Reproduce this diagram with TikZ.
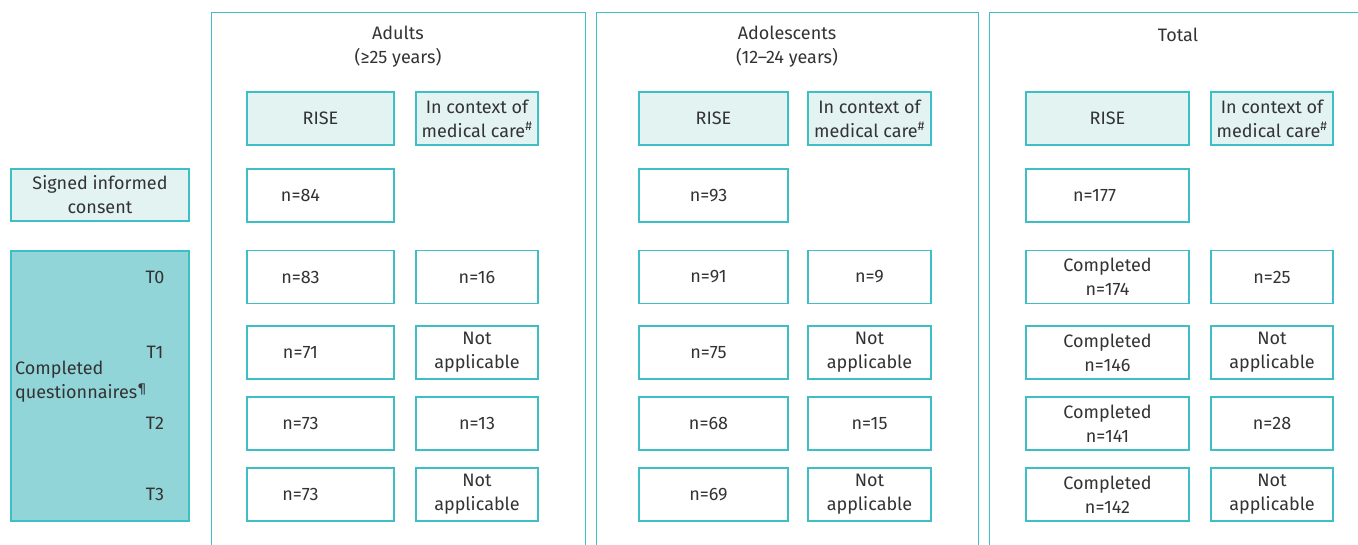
\documentclass[tikz,border=0pt]{standalone}
\usepackage{fontspec}
\setmainfont{Fira Sans}
\definecolor{bordc}{HTML}{3EBFC6}
\definecolor{lightc}{HTML}{E3F3F2}
\definecolor{darkc}{HTML}{92D5D9}
\definecolor{textc}{HTML}{333333}
\begin{document}
\begin{tikzpicture}[x=1pt,y=-1pt,
  font=\fontsize{18}{24}\selectfont, text=textc,
  box/.style={draw=bordc, line width=1.2pt, fill=white, inner sep=0pt, align=center, minimum height=53pt},
  hbox/.style={box, fill=lightc},
  panel/.style={draw=bordc, line width=1.2pt},
  ttl/.style={align=center, inner sep=0pt},
  wa/.style={minimum width=147pt}, wb/.style={minimum width=122pt},
  wc/.style={minimum width=149pt}, wd/.style={minimum width=123pt},
  we/.style={minimum width=163pt}
]
\useasboundingbox (0,0) rectangle (1358,544);
% panels
\node[panel, minimum width=374pt, minimum height=600pt, anchor=north west, inner sep=0pt] (pA) at (211,12) {};
\node[panel, minimum width=382pt, minimum height=600pt, anchor=north west, inner sep=0pt] (pB) at (596,12) {};
\node[panel, minimum width=378pt, minimum height=600pt, anchor=north west, inner sep=0pt] (pC) at (989,12) {};
% titles
\node[ttl] (tA) at (398,47) {Adults\\(≥25 years)};
\node[ttl] (tB) at (787,47) {Adolescents\\(12–24 years)};
\node[ttl] (tC) at (1178,35) {Total};
% left column
\node[hbox, minimum width=178pt, minimum height=52pt] (consent) at (100,195) {Signed informed\\consent};
\node[box, fill=darkc, minimum width=178pt, minimum height=270pt] (quest) at (100,386) {};
\node[anchor=west, align=left, inner sep=0pt] (qlab) at (15,382) {Completed\\questionnaires\textsuperscript{¶}};
\node (t0) at (155,277) {T0};
\node (t1) at (155,352.5) {T1};
\node (t2) at (155,423.5) {T2};
\node (t3) at (155,494.5) {T3};
% headers
\node[hbox, wa] (hA1) at (320.5,118.5) {RISE};
\node[hbox, wb] (hA2) at (477,118.5) {In context of\\medical care\textsuperscript{\#}};
\node[hbox, wc] (hB1) at (713.5,118.5) {RISE};
\node[hbox, wd] (hB2) at (869.5,118.5) {In context of\\medical care\textsuperscript{\#}};
\node[hbox, we] (hC1) at (1107.5,118.5) {RISE};
\node[hbox, wb] (hC2) at (1272,118.5) {In context of\\medical care\textsuperscript{\#}};
% consent row
\node[box, wa, label={[xshift=-20pt]center:n=84}] (cA) at (320.5,195.5) {};
\node[box, wc, label={[xshift=-5pt]center:n=93}] (cB) at (713.5,195.5) {};
\node[box, we, label={[xshift=-13pt]center:n=177}] (cC) at (1107.5,195.5) {};
% T0
\node[box, wa, label={[xshift=-20pt]center:n=83}] (a0) at (320.5,277) {};
\node[box, wb] (b0) at (477,277) {n=16};
\node[box, wc, label={[xshift=-5pt]center:n=91}] (c0) at (713.5,277) {};
\node[box, wd] (d0) at (869.5,277) {n=9};
\node[box, we] (e0) at (1107.5,277) {Completed\\n=174};
\node[box, wb] (f0) at (1272,277) {n=25};
% T1
\node[box, wa, label={[xshift=-20pt]center:n=71}] (a1) at (320.5,352.5) {};
\node[box, wb] (b1) at (477,352.5) {Not\\applicable};
\node[box, wc, label={[xshift=-5pt]center:n=75}] (c1) at (713.5,352.5) {};
\node[box, wd] (d1) at (869.5,352.5) {Not\\applicable};
\node[box, we] (e1) at (1107.5,352.5) {Completed\\n=146};
\node[box, wb] (f1) at (1272,352.5) {Not\\applicable};
% T2
\node[box, wa, label={[xshift=-20pt]center:n=73}] (a2) at (320.5,423.5) {};
\node[box, wb] (b2) at (477,423.5) {n=13};
\node[box, wc, label={[xshift=-5pt]center:n=68}] (c2) at (713.5,423.5) {};
\node[box, wd] (d2) at (869.5,423.5) {n=15};
\node[box, we] (e2) at (1107.5,423.5) {Completed\\n=141};
\node[box, wb] (f2) at (1272,423.5) {n=28};
% T3
\node[box, wa, label={[xshift=-20pt]center:n=73}] (a3) at (320.5,494.5) {};
\node[box, wb] (b3) at (477,494.5) {Not\\applicable};
\node[box, wc, label={[xshift=-5pt]center:n=69}] (c3) at (713.5,494.5) {};
\node[box, wd] (d3) at (869.5,494.5) {Not\\applicable};
\node[box, we] (e3) at (1107.5,494.5) {Completed\\n=142};
\node[box, wb] (f3) at (1272,494.5) {Not\\applicable};
\end{tikzpicture}
\end{document}
